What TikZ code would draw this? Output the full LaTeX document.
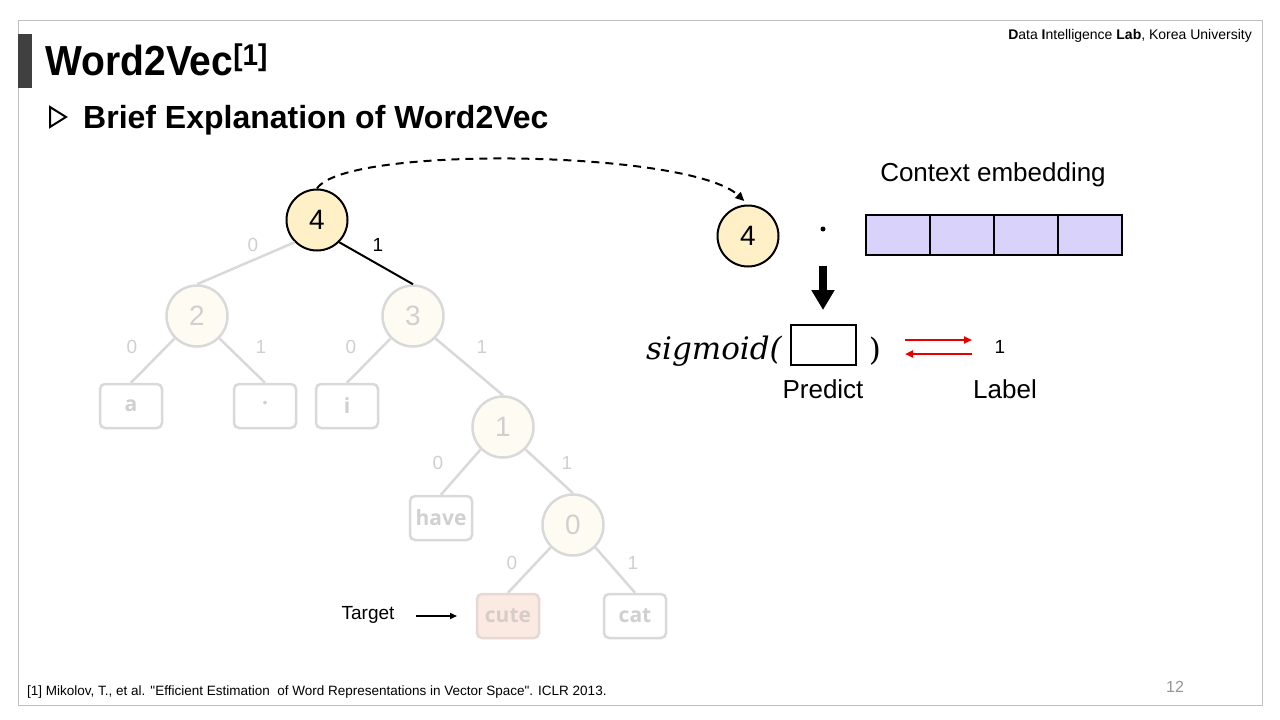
\documentclass[tikz,border=0pt]{standalone}
\usepackage{fontspec}
\setmainfont{Liberation Sans}
\newfontfamily\titlefont[FakeStretch=0.93]{Liberation Sans}
\newfontfamily\footfont[Ligatures=TeXOff]{Liberation Sans}
\newfontfamily\leaffont{Open Sans}
\newfontfamily\sigfont{DejaVu Serif}
\usetikzlibrary{arrows.meta}
\definecolor{framegray}{RGB}{191,191,191}
\definecolor{bargray}{RGB}{64,64,64}
\definecolor{activefill}{RGB}{255,240,200}
\definecolor{fadefill}{RGB}{254,251,243}
\definecolor{fadeline}{RGB}{217,217,217}
\definecolor{fadetext}{RGB}{208,208,208}
\definecolor{cutefill}{RGB}{251,234,226}
\definecolor{cuteline}{RGB}{230,217,212}
\definecolor{cutetext}{RGB}{215,205,200}
\definecolor{embfill}{RGB}{217,211,252}
\definecolor{arrowred}{RGB}{230,0,0}
\definecolor{pagegray}{RGB}{150,150,150}
\newcommand\fsz[1]{\fontsize{#1}{#1}\selectfont}
\begin{document}
\begin{tikzpicture}[x=1pt,y=-1pt,
  activenode/.style={circle, draw=black, line width=2, fill=activefill, minimum size=61, inner sep=0, font=\fsz{28}},
  fadenode/.style={circle, draw=fadeline, line width=2.5, fill=fadefill, text=fadetext, minimum size=61, inner sep=0, font=\fsz{28}},
  leafbox/.style={rectangle, rounded corners=5, draw=fadeline, line width=2.5, fill=white, text=fadetext, minimum width=62, minimum height=44, inner sep=0, font=\leaffont\bfseries\fsz{21}},
  fadeedge/.style={draw=fadeline, line width=2.5},
  bitfade/.style={text=fadetext, font=\fsz{19}, inner sep=0},
  bitdark/.style={text=black, font=\fsz{19}, inner sep=0},
  embcell/.style={rectangle, draw=black, line width=2, fill=embfill, minimum width=64, minimum height=40, inner sep=0},
  caption/.style={font=\fsz{26}, inner sep=0},
]
\useasboundingbox (0,0) rectangle (1280,720);
\fill[white] (0,0) rectangle (1280,720);
% slide frame
\draw[framegray, line width=1] (18.5,20.5) rectangle (1262,705);
\fill[bargray] (18,34) rectangle (32,88);
% titles
\node[anchor=base west, inner sep=0, font=\titlefont\bfseries\fsz{42}] (title) at (45,75) {Word2Vec{\fsz{30}\raisebox{10pt}{[1]}}};
\draw[line width=2, line join=miter] (50,107) -- (66,117) -- (50,127) -- cycle;
\node[anchor=base west, inner sep=0, font=\bfseries\fsz{32}] (sub) at (83,128) {Brief Explanation of Word2Vec};
\node[anchor=base east, inner sep=0, font=\fsz{14}] (lab) at (1252,39) {\textbf{D}ata \textbf{I}ntelligence \textbf{Lab}, Korea University};
% tree nodes
\node[activenode] (n4) at (317,220) {4};
\node[fadenode] (n2) at (197,316) {2};
\node[fadenode] (n3) at (413,316) {3};
\node[fadenode] (n1) at (503,427) {1};
\node[fadenode] (n0) at (573,525) {0};
\node[leafbox] (la) at (131,406) {a};
\node[leafbox] (ldot) at (265,406) {·};
\node[leafbox] (li) at (347,406) {i};
\node[leafbox] (lhave) at (441,518) {have};
\node[leafbox, fill=cutefill, draw=cuteline, text=cutetext] (lcute) at (508,616) {cute};
\node[leafbox] (lcat) at (635,616) {cat};
% tree edges
\draw[fadeedge] (n4.-135) -- (n2.north);
\draw[black, line width=2] (n4.-45) -- (n3.north);
\draw[fadeedge] (n2.-135) -- (la.north);
\draw[fadeedge] (n2.-45) -- (ldot.north);
\draw[fadeedge] (n3.-135) -- (li.north);
\draw[fadeedge] (n3.-45) -- (n1.north);
\draw[fadeedge] (n1.-135) -- (lhave.north);
\draw[fadeedge] (n1.-45) -- (n0.north);
\draw[fadeedge] (n0.-135) -- (lcute.north);
\draw[fadeedge] (n0.-45) -- (lcat.north);
% edge labels
\node[bitfade] (b40) at (253,245) {0};
\node[bitdark] (b41) at (378,245) {1};
\node[bitfade] (b20) at (132,347) {0};
\node[bitfade] (b21) at (261,347) {1};
\node[bitfade] (b30) at (351,347) {0};
\node[bitfade] (b31) at (482,347) {1};
\node[bitfade] (b10) at (438,463) {0};
\node[bitfade] (b11) at (567,463) {1};
\node[bitfade] (b00) at (512,563) {0};
\node[bitfade] (b01) at (633,563) {1};
% target
\node[font=\fsz{19}, inner sep=0] (tgt) at (368,615) {Target};
\coordinate (ta) at (416,616);
\coordinate (tb) at (457,616);
\draw[line width=1.5, -{Triangle[length=7pt,width=6pt]}] (ta) -- (tb);
% right side
\node[activenode] (r4) at (748,236) {4};
\draw[dashed, dash pattern=on 8pt off 6pt, line width=2, shorten >=5pt, -{Triangle[length=9pt,width=8pt]}] (n4.north) .. controls (345,145) and (690,150) .. (r4.north);
\node[circle, fill=black, inner sep=0, minimum size=5] (dotop) at (823,229) {};
\node[embcell] (e1) at (898,235) {};
\node[embcell] (e2) at (962,235) {};
\node[embcell] (e3) at (1026,235) {};
\node[embcell] (e4) at (1090,235) {};
\node[caption] (ctx) at (993,175) {Context embedding};
\coordinate (dA) at (823,266);
\coordinate (dB) at (823,310);
\draw[line width=8, -{Triangle[length=20pt,width=22pt]}] (dA) -- (dB);
\node[anchor=east, inner sep=0, font=\sigfont\itshape\fsz{31}] (sig) at (782,351) {sigmoid(};
\node[draw=black, line width=2, minimum width=65, minimum height=40, inner sep=0] (pbox) at (823,345) {};
\node[inner sep=0, font=\sigfont\fsz{31}] (rpar) at (875,351) {)};
\coordinate (ra1) at (905,340);
\coordinate (ra2) at (972,340);
\coordinate (rb1) at (972,354);
\coordinate (rb2) at (905,354);
\draw[arrowred, line width=2, -{Triangle[length=8pt,width=7pt]}] (ra1) -- (ra2);
\draw[arrowred, line width=2, -{Triangle[length=8pt,width=7pt]}] (rb1) -- (rb2);
\node[font=\fsz{19}, inner sep=0] (lab1) at (1000,347) {1};
\node[caption] (pred) at (823,389) {Predict};
\node[caption] (labl) at (1005,389) {Label};
% footer
\node[anchor=base west, inner sep=0, font=\footfont\fsz{13.5}] (foot) at (27,695) {[1] Mikolov, T., et al. "Efficient Estimation\ \ of Word Representations in Vector Space". ICLR 2013.};
\node[text=pagegray, font=\fsz{16}, inner sep=0] (pg) at (1175,687) {12};
\end{tikzpicture}
\end{document}
